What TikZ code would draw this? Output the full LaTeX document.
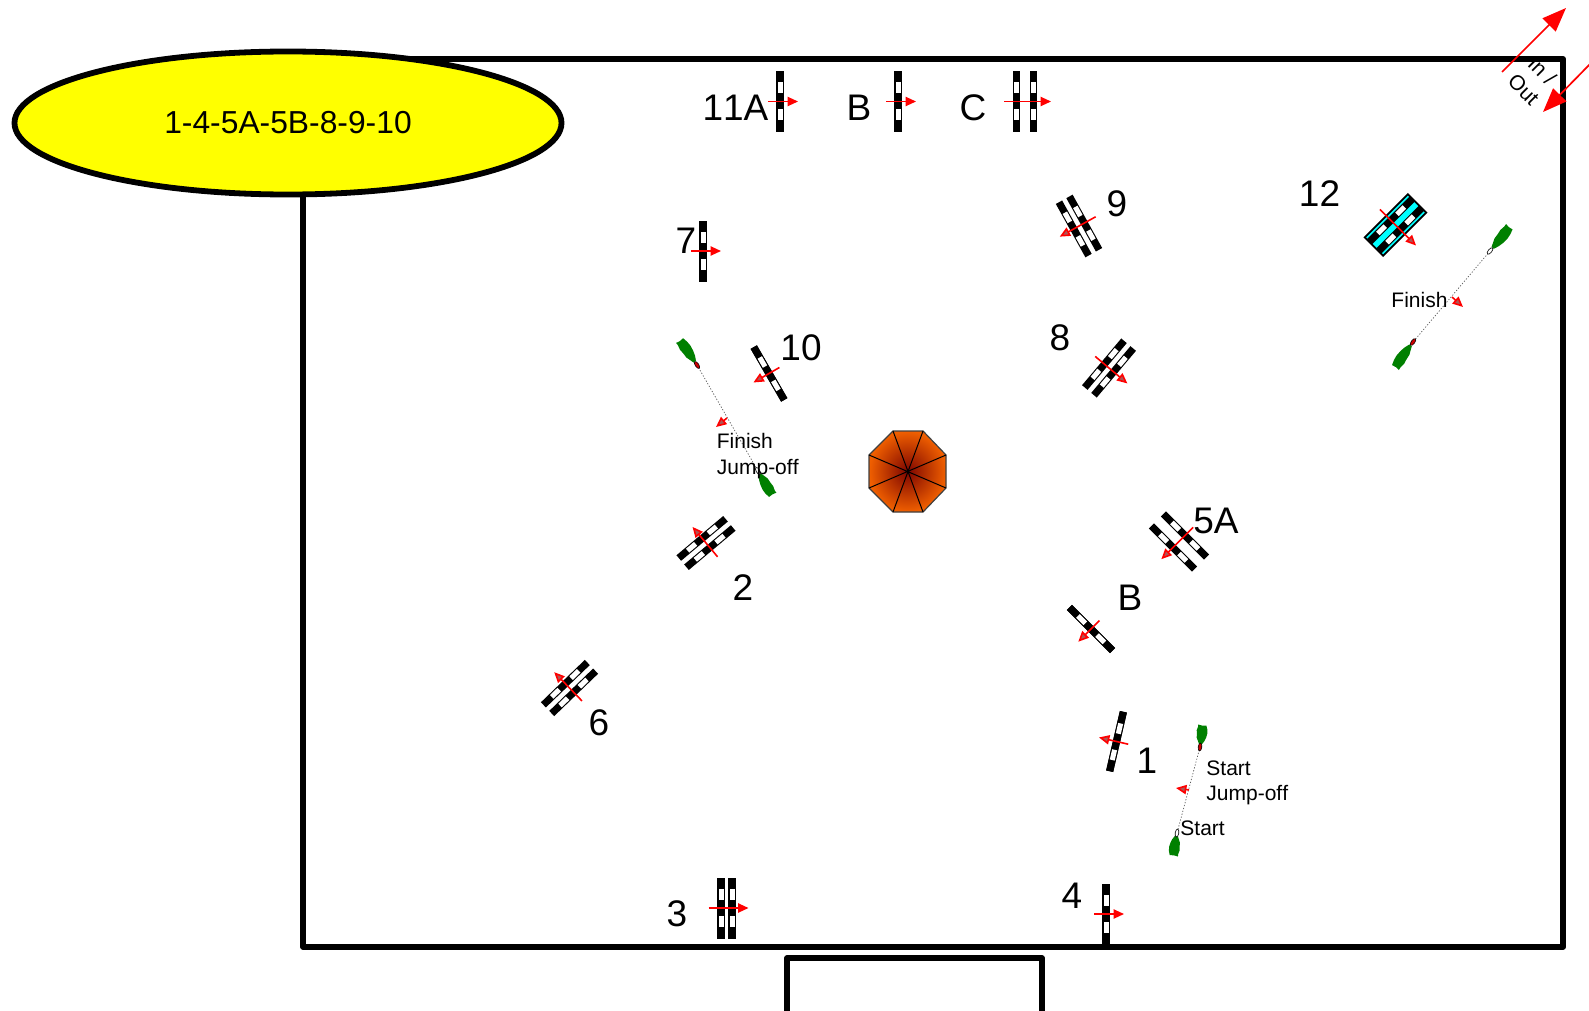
\documentclass[tikz,border=0pt]{standalone}
\usepackage{fontspec}
\setmainfont[Kerning=Off]{Liberation Sans}
\usetikzlibrary{arrows.meta,shapes.geometric}
\definecolor{headgray}{RGB}{175,85,85}
\definecolor{postgreen}{RGB}{0,128,0}
\definecolor{roofdark}{RGB}{125,5,0}
\definecolor{roofor}{RGB}{240,95,0}
\definecolor{cyanfill}{RGB}{0,255,255}
\definecolor{ovalyellow}{RGB}{255,255,0}
\tikzset{
  framestroke/.style={draw=black,line width=2.9pt,line join=round},
  numlabel/.style={font=\fontsize{18.5}{20}\selectfont,inner sep=0pt,anchor=base},
  smalllabel/.style={font=\fontsize{10.5}{12}\selectfont,inner sep=0pt,anchor=base west},
  fencearrow/.style={draw=red,line width=.8pt,-{Triangle[length=5.2pt,width=4.6pt,fill=#1]}},
  fencearrow/.default=red,
  bigarrow/.style={draw=red,line width=.85pt,-{Triangle[length=12pt,width=9.2pt,fill=red]}},
  courseline/.style={draw=black!65,line width=.35pt,dash pattern=on .6pt off .9pt},
}
\newcommand\fencebar[1]{%
  \fill[black] (#1-3.6,-30.5) rectangle (#1+3.6,30.5);
  \fill[white] (#1-2.5,-19) rectangle (#1+2.5,-8.5);
  \fill[white] (#1-2.5,8) rectangle (#1+2.5,18.5);
}
% [head fill]{x}{y}{direction}{bar separation}{arrow start}{arrow end}
\newcommand\fence[7][headgray]{%
  \begin{scope}[shift={(#2,#3)},rotate=#4]
    \fencebar{-#5/2}
    \fencebar{#5/2}
    \draw[fencearrow=#1] (#6,0) -- (#7,0);
  \end{scope}
}
% {x}{y}{direction}{length}{flag fill}
\newcommand\flagpost[5]{%
  \begin{scope}[shift={(#1,#2)},rotate=#3]
    \begin{scope}[xscale=#4/30]
      \fill[postgreen] (4,-1.5) -- (8,-3) -- (12,-4.6) -- (18,-5) -- (22,-5.6) -- (27,-4.8) -- (30,-5)
        -- (29.4,-1) -- (30,3.4) -- (25,4.8) -- (20,5.4) -- (14,4.8) -- (9,3.6) -- (4,1.5) -- cycle;
    \end{scope}
    \filldraw[fill=#5,draw=black,line width=.3pt] (0,0) ellipse (4 and 1.8);
  \end{scope}
}
\begin{document}
\begin{tikzpicture}[x=0.5pt,y=-0.5pt]
\useasboundingbox (0,0) rectangle (1589,1011);
% arena
\draw[framestroke] (303,59) rectangle (1563,947);
\draw[framestroke] (787,1013) -- (787,958) -- (1042,958) -- (1042,1013);
% pavilion
\shade[inner color=roofdark,outer color=roofor] (893,431) -- (923,431) -- (946,455) -- (946,488) -- (923,512) -- (893,512) -- (869,488) -- (869,455) -- cycle;
\draw[black!75,line width=.6pt] (893,431) -- (923,431) -- (946,455) -- (946,488) -- (923,512) -- (893,512) -- (869,488) -- (869,455) -- cycle;
\draw[black,line width=.5pt] (893,431) -- (923,512) (923,431) -- (893,512) (946,455) -- (869,488) (946,488) -- (869,455);
% fences
\fence[red]{780}{101.5}{0}{0}{-12}{18}
\fence[red]{898}{101.5}{0}{0}{-12}{18}
\fence[red]{1025}{101.5}{0}{17}{-21}{26}
\fence[red]{703}{251}{0}{0}{-12}{18}
\fence{1079}{226}{209}{12}{-19}{22}
\begin{scope}[shift={(1395.5,225)},rotate=-45]
  \filldraw[fill=cyanfill,draw=black,line width=.9pt] (-13,-30.5) rectangle (13,30.5);
\end{scope}
\fence{1395.5}{225}{-45}{13}{-22}{29}
\fence{1109}{368}{-40}{12}{-18}{24}
\fence{769}{373.5}{210}{0}{-12}{18}
\fence{706}{543}{130}{12}{-18}{21}
\fence{1179}{541.5}{225}{17}{-20}{25}
\fence{1091}{629}{225}{0}{-12}{18}
\fence{569.5}{688}{134}{12}{-18}{22}
\fence{1116.5}{741.5}{167}{0}{-12}{18}
\fence[red]{726.5}{908}{0}{11}{-18}{22}
\fence[red]{1106}{914}{0}{0}{-12}{18}
% start and finish lines
\coordinate (fa) at (1490,251);
\coordinate (fb) at (1413,342);
\coordinate (ja) at (697,365);
\coordinate (jb) at (758,471);
\coordinate (sa) at (1200,747);
\coordinate (sb) at (1177,833);
\draw[courseline] (fa) -- (fb);
\draw[courseline] (ja) -- (jb);
\draw[courseline] (sa) -- (sb);
\flagpost{1490}{251}{50}{31}{white}
\flagpost{1413}{342}{234}{31}{red!80!black}
\flagpost{697}{365}{124}{30}{red!80!black}
\flagpost{758}{471}{-60}{28}{white}
\flagpost{1200}{747}{82}{22}{red!80!black}
\flagpost{1177}{833}{260}{23}{white}
\coordinate (fs) at (1452,297);
\coordinate (fe) at (1463,307);
\coordinate (js) at (727,418);
\coordinate (je) at (716,427);
\coordinate (ss) at (1189,790);
\coordinate (se) at (1176,788);
\draw[fencearrow=headgray] (fs) -- (fe);
\draw[fencearrow=headgray] (js) -- (je);
\draw[fencearrow=headgray] (ss) -- (se);
% gate arrows
\coordinate (ga) at (1502,72);
\coordinate (gb) at (1566,8);
\coordinate (gc) at (1592,62);
\coordinate (gd) at (1543,112);
\draw[bigarrow] (ga) -- (gb);
\draw[bigarrow] (gc) -- (gd);
\node[rotate=-45,align=center,inner sep=0pt,font=\fontsize{10.5}{13}\selectfont] (gate) at (1533,80) {In /\\Out};
% ellipse
\node[draw=black,line width=2.9pt,fill=ovalyellow,ellipse,minimum width=273.5pt,minimum height=71.5pt,inner sep=0pt,font=\fontsize{15.9}{18}\selectfont] (order) at (288,123) {1-4-5A-5B-8-9-10};
% labels
\node[numlabel] (n11a) at (735.5,120) {11A};
\node[numlabel] (n11b) at (859,120) {B};
\node[numlabel] (n11c) at (973,120) {C};
\node[numlabel] (n7) at (686,253) {7};
\node[numlabel] (n9) at (1117,216) {9};
\node[numlabel] (n12) at (1319.5,206) {12};
\node[numlabel] (n8) at (1060,350) {8};
\node[numlabel] (n10) at (801,360) {10};
\node[numlabel] (n5a) at (1216,533) {5A};
\node[numlabel] (n5b) at (1130,610) {B};
\node[numlabel] (n2) at (743,600) {2};
\node[numlabel] (n6) at (599,735) {6};
\node[numlabel] (n1) at (1147,773) {1};
\node[numlabel] (n3) at (677,926) {3};
\node[numlabel] (n4) at (1072,908) {4};
\node[smalllabel] (t1) at (1391,307) {Finish};
\node[smalllabel] (t2) at (716.5,448) {Finish};
\node[smalllabel] (t3) at (716.5,474) {Jump-off};
\node[smalllabel] (t4) at (1206,775) {Start};
\node[smalllabel] (t5) at (1206,800) {Jump-off};
\node[smalllabel] (t6) at (1180,835) {Start};
\end{tikzpicture}
\end{document}
